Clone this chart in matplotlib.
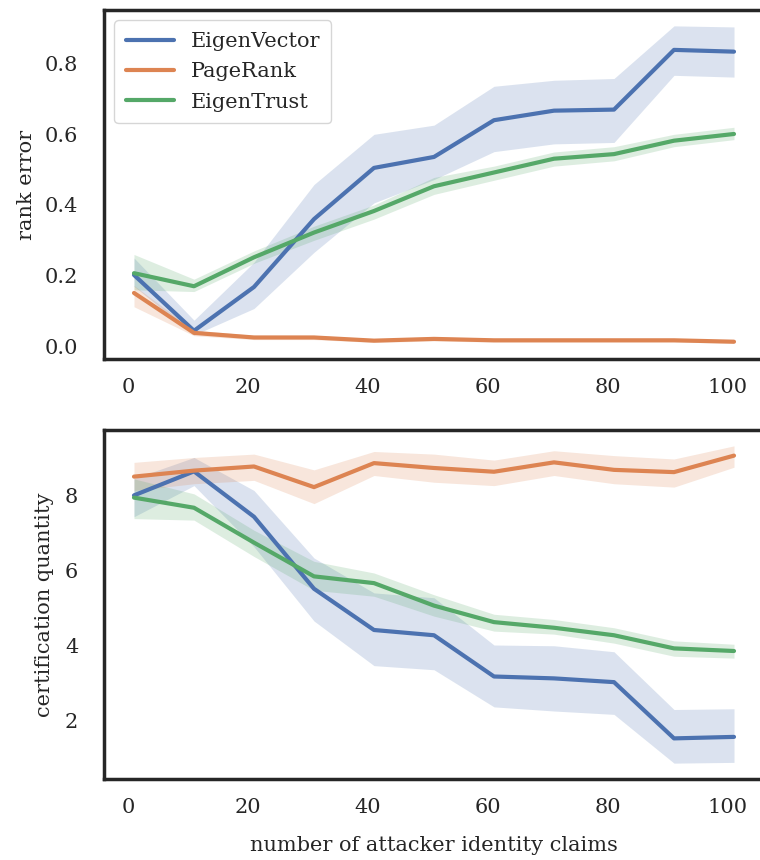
import matplotlib
matplotlib.use("Agg")
import matplotlib.pyplot as plt
import seaborn as sns
import numpy as np

sns.set_theme(style="white")
plt.rcParams['font.family'] = ['DejaVu Serif']

# number of attacker identity claims
claims = [1, 11, 21, 31, 41, 51, 61, 71, 81, 91, 101]
labels = ["EigenVector", "PageRank", "EigenTrust"]

# rank error: mean, lower, upper
rank_eigvec = [0.202, 0.044, 0.168, 0.360, 0.505, 0.536, 0.640, 0.667, 0.670, 0.839, 0.834]
rank_eigvec_lo = [0.17, 0.032, 0.107, 0.266, 0.406, 0.472, 0.551, 0.573, 0.577, 0.767, 0.762]
rank_eigvec_hi = [0.25, 0.074, 0.238, 0.458, 0.600, 0.626, 0.736, 0.753, 0.758, 0.907, 0.904]

rank_pagerank = [0.151, 0.038, 0.025, 0.025, 0.016, 0.021, 0.017, 0.017, 0.017, 0.017, 0.013]
rank_pagerank_lo = [0.112, 0.030, 0.019, 0.019, 0.011, 0.015, 0.012, 0.012, 0.012, 0.012, 0.009]
rank_pagerank_hi = [0.172, 0.046, 0.031, 0.031, 0.021, 0.027, 0.022, 0.022, 0.022, 0.022, 0.017]

rank_eigtrust = [0.207, 0.170, 0.252, 0.322, 0.383, 0.453, 0.492, 0.531, 0.544, 0.582, 0.601]
rank_eigtrust_lo = [0.16, 0.155, 0.235, 0.30, 0.36, 0.43, 0.47, 0.51, 0.525, 0.565, 0.585]
rank_eigtrust_hi = [0.26, 0.19, 0.27, 0.34, 0.40, 0.478, 0.51, 0.55, 0.565, 0.60, 0.62]

# certification quantity: mean, lower, upper
cert_eigvec = [8.00, 8.64, 7.43, 5.51, 4.41, 4.27, 3.17, 3.12, 3.02, 1.52, 1.56]
cert_eigvec_lo = [7.43, 8.26, 6.63, 4.65, 3.46, 3.35, 2.36, 2.25, 2.16, 0.86, 0.88]
cert_eigvec_hi = [8.45, 9.01, 8.13, 6.33, 5.40, 5.27, 4.01, 3.99, 3.83, 2.29, 2.31]

cert_pagerank = [8.50, 8.66, 8.77, 8.22, 8.86, 8.73, 8.63, 8.88, 8.68, 8.62, 9.06]
cert_pagerank_lo = [8.13, 8.31, 8.40, 7.78, 8.53, 8.35, 8.26, 8.53, 8.31, 8.22, 8.75]
cert_pagerank_hi = [8.88, 9.01, 9.10, 8.68, 9.17, 9.10, 8.94, 9.19, 9.06, 8.97, 9.32]

cert_eigtrust = [7.94, 7.67, 6.74, 5.84, 5.66, 5.06, 4.62, 4.47, 4.27, 3.92, 3.85]
cert_eigtrust_lo = [7.38, 7.34, 6.37, 5.47, 5.31, 4.78, 4.38, 4.30, 4.06, 3.71, 3.66]
cert_eigtrust_hi = [8.44, 8.04, 7.07, 6.24, 5.93, 5.35, 4.83, 4.69, 4.47, 4.12, 4.03]

colors = sns.color_palette("deep")[:3]

fig = plt.figure(figsize=(7.6, 8.6), dpi=100)
ax1 = fig.add_axes([104/760, 1-359/860, (764-104)/760, 349/860])
ax2 = fig.add_axes([104/760, 1-779/860, (764-104)/760, 349/860])

top = [(rank_eigvec, rank_eigvec_lo, rank_eigvec_hi),
       (rank_pagerank, rank_pagerank_lo, rank_pagerank_hi),
       (rank_eigtrust, rank_eigtrust_lo, rank_eigtrust_hi)]
bottom = [(cert_eigvec, cert_eigvec_lo, cert_eigvec_hi),
          (cert_pagerank, cert_pagerank_lo, cert_pagerank_hi),
          (cert_eigtrust, cert_eigtrust_lo, cert_eigtrust_hi)]

for ax, series in [(ax1, top), (ax2, bottom)]:
    for (m, lo, hi), c, lab in zip(series, colors, labels):
        ax.fill_between(claims, lo, hi, color=c, alpha=0.2, linewidth=0)
        ax.plot(claims, m, color=c, linewidth=3, label=lab)
    ax.set_xticks([0, 20, 40, 60, 80, 100])
    ax.tick_params(axis="x", labelsize=15, pad=7.5)
    ax.tick_params(axis="y", labelsize=15, pad=12.5)
    for s in ax.spines.values():
        s.set_linewidth(2.5)
        s.set_color("#262626")

ax1.set_yticks([0.0, 0.2, 0.4, 0.6, 0.8])
ax2.set_yticks([2, 4, 6, 8])
ax1.set_ylabel("rank error", fontsize=15, labelpad=6)
ax2.set_ylabel("certification quantity", fontsize=15, labelpad=8)
ax2.set_xlabel("number of attacker identity claims", fontsize=15, labelpad=14)
ax1.legend(loc="upper left", fontsize=15, frameon=True, handlelength=2.3,
           labelspacing=0.55, borderpad=0.55)

fig.savefig("out.png", dpi=100)
